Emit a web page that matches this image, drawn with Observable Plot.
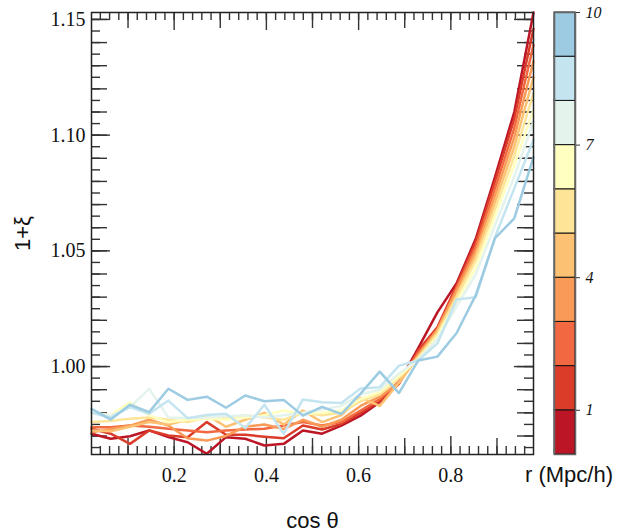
<!DOCTYPE html>
<html>
<head>
<meta charset="utf-8">
<script src="https://cdn.jsdelivr.net/npm/d3@7"></script>
<script src="https://cdn.jsdelivr.net/npm/@observablehq/plot@0.6"></script>
<style>
  body { margin: 0; background: #fff; }
  #wrap { position: relative; width: 633px; height: 532px; overflow: hidden; }
  #wrap svg { position: absolute; top: 0; }
</style>
</head>
<body>
<div id="wrap"></div>
<script>
// cos θ bin centres
const cosTheta = [0.0208, 0.0625, 0.1042, 0.1458, 0.1875, 0.2292, 0.2708, 0.3125, 0.3542, 0.3958, 0.4375, 0.4792,
                  0.5208, 0.5625, 0.6042, 0.6458, 0.6875, 0.7292, 0.7708, 0.8125, 0.8542, 0.8958, 0.9375, 0.9792];

// 1+ξ for each separation r (Mpc/h)
const r1  = [0.9710, 0.9688, 0.9699, 0.9724, 0.9695, 0.9673, 0.9623, 0.9695, 0.9688, 0.9659, 0.9666, 0.9724, 0.9710, 0.9745, 0.9788, 0.9846, 0.9930, 1.0080, 1.0234, 1.0360, 1.0553, 1.0820, 1.1100, 1.1530];
const r2  = [0.9731, 0.9710, 0.9666, 0.9724, 0.9702, 0.9695, 0.9760, 0.9705, 0.9705, 0.9697, 0.9690, 0.9745, 0.9728, 0.9752, 0.9800, 0.9850, 0.9925, 1.0070, 1.0170, 1.0350, 1.0540, 1.0800, 1.1070, 1.1460];
const r3  = [0.9738, 0.9738, 0.9745, 0.9740, 0.9731, 0.9724, 0.9716, 0.9724, 0.9728, 0.9731, 0.9745, 0.9760, 0.9745, 0.9760, 0.9810, 0.9860, 0.9935, 1.0060, 1.0160, 1.0340, 1.0520, 1.0770, 1.1030, 1.1390];
const r4  = [0.9716, 0.9730, 0.9745, 0.9770, 0.9745, 0.9690, 0.9680, 0.9700, 0.9740, 0.9750, 0.9730, 0.9770, 0.9740, 0.9770, 0.9830, 0.9870, 0.9930, 1.0050, 1.0160, 1.0330, 1.0500, 1.0740, 1.0990, 1.1320];
const r5  = [0.9724, 0.9720, 0.9740, 0.9760, 0.9750, 0.9770, 0.9790, 0.9740, 0.9770, 0.9800, 0.9750, 0.9810, 0.9760, 0.9790, 0.9865, 0.9830, 0.9930, 1.0040, 1.0150, 1.0310, 1.0480, 1.0710, 1.0950, 1.1250];
const r6  = [0.9760, 0.9765, 0.9775, 0.9780, 0.9770, 0.9760, 0.9780, 0.9775, 0.9790, 0.9780, 0.9770, 0.9800, 0.9790, 0.9800, 0.9850, 0.9880, 0.9950, 1.0040, 1.0140, 1.0300, 1.0460, 1.0680, 1.0910, 1.1180];
const r7  = [0.9800, 0.9790, 0.9846, 0.9790, 0.9759, 0.9770, 0.9775, 0.9770, 0.9780, 0.9790, 0.9810, 0.9795, 0.9800, 0.9810, 0.9860, 0.9890, 0.9960, 1.0030, 1.0130, 1.0280, 1.0430, 1.0650, 1.0870, 1.1110];
const r8  = [0.9801, 0.9788, 0.9824, 0.9904, 0.9780, 0.9778, 0.9780, 0.9785, 0.9790, 0.9780, 0.9790, 0.9800, 0.9815, 0.9830, 0.9880, 0.9900, 0.9970, 1.0030, 1.0120, 1.0260, 1.0400, 1.0610, 1.0820, 1.1060];
const r9  = [0.9800, 0.9780, 0.9825, 0.9796, 0.9853, 0.9777, 0.9791, 0.9796, 0.9734, 0.9835, 0.9709, 0.9858, 0.9846, 0.9843, 0.9905, 0.9911, 1.0004, 1.0026, 1.0100, 1.0290, 1.0300, 1.0560, 1.0770, 1.0980];
const r10 = [0.9817, 0.9771, 0.9835, 0.9803, 0.9904, 0.9856, 0.9870, 0.9822, 0.9875, 0.9850, 0.9856, 0.9788, 0.9826, 0.9795, 0.9883, 0.9978, 0.9885, 1.0026, 1.0043, 1.0145, 1.0310, 1.0555, 1.0640, 1.0905];

const rValues = [1, 2, 3, 4, 5, 6, 7, 8, 9, 10];
const rColors = ["#bb1526", "#db3c2a", "#f26841", "#f99b57", "#fdc173", "#fee497", "#ffffc0", "#e4f3ec", "#c4e5f0", "#9ccbe2"];
const colorbarTicks = [1, 4, 7, 10];

const xTickLabels = [0.2, 0.4, 0.6, 0.8];
const yTickLabels = [1.00, 1.05, 1.10, 1.15];

const xDomain = [0.0208, 0.9792];
const yDomain = [0.962, 1.153];

const allSeries = [r1, r2, r3, r4, r5, r6, r7, r8, r9, r10];
const table = [];
allSeries.forEach((s, k) => s.forEach((v, i) => table.push({x: cosTheta[i], y: v, r: rValues[k]})));

const W = 633, H = 532;
const mL = 91, mR = 100, mT = 12, mB = 78;
const pw = W - mL - mR, ph = H - mT - mB;

const inRange = (d, [a, b]) => d >= a - 1e-9 && d <= b + 1e-9;
const xMinor = d3.range(0, 1.0001, 0.02).map(v => +v.toFixed(2)).filter(v => inRange(v, xDomain));
const xMid = [0.1, 0.3, 0.5, 0.7, 0.9];
const yMinor = d3.range(0.96, 1.155, 0.005).map(v => +v.toFixed(3)).filter(v => inRange(v, yDomain));
const yMid = d3.range(0.96, 1.155, 0.01).map(v => +v.toFixed(2)).filter(v => inRange(v, yDomain));

const tickStroke = "#333";
const LONG = 18, MID = 16, SHORT = 8;

function xTicks(arr, len) {
  return [
    Plot.tickX(arr, {x: d => d, insetTop: ph - len, stroke: tickStroke, strokeWidth: 1.4}),
    Plot.tickX(arr, {x: d => d, insetBottom: ph - len, stroke: tickStroke, strokeWidth: 1.4})
  ];
}
function yTicks(arr, len) {
  return [
    Plot.tickY(arr, {y: d => d, insetRight: pw - len, stroke: tickStroke, strokeWidth: 1.4}),
    Plot.tickY(arr, {y: d => d, insetLeft: pw - len, stroke: tickStroke, strokeWidth: 1.4})
  ];
}

const main = Plot.plot({
  width: W, height: H,
  marginLeft: mL, marginRight: mR, marginTop: mT, marginBottom: mB,
  style: {background: "transparent", overflow: "visible", color: "#111"},
  x: {domain: xDomain, axis: null},
  y: {domain: yDomain, axis: null},
  color: {type: "ordinal", domain: rValues, range: rColors},
  marks: [
    ...xTicks(xMinor, SHORT), ...xTicks(xMid, MID), ...xTicks(xTickLabels, LONG),
    ...yTicks(yMinor, SHORT + 1), ...yTicks(yMid, MID), ...yTicks(yTickLabels, LONG + 1),
    Plot.line(table, {x: "x", y: "y", z: "r", stroke: "r", strokeWidth: 2.5}),
    Plot.frame({stroke: "#222", strokeWidth: 1.5}),
    Plot.axisX(xTickLabels, {tickSize: 0, tickPadding: 13, fontSize: 20, fontFamily: "Liberation Serif", label: null, tickFormat: d3.format(".1f")}),
    Plot.axisY(yTickLabels, {tickSize: 0, tickPadding: 6, fontSize: 20, fontFamily: "Liberation Serif", label: null, tickFormat: d3.format(".2f")}),
    Plot.text(["cos θ"], {frameAnchor: "bottom", dy: 66, lineAnchor: "middle", fontSize: 22, fontFamily: "Liberation Sans", fill: "#111"}),
    Plot.text(["1+ξ"], {frameAnchor: "left", dx: -69, rotate: -90, textAnchor: "middle", lineAnchor: "middle", fontSize: 22, fontFamily: "Liberation Sans", fill: "#111"})
  ]
});
document.getElementById("wrap").appendChild(main);

// colour bar
const cbLeft = 500, cbW = 133;
const cb = Plot.plot({
  width: cbW, height: H,
  marginLeft: 54, marginRight: 58, marginTop: 12, marginBottom: 78,
  style: {background: "transparent", overflow: "visible", color: "#111"},
  x: {domain: [0, 1], axis: null},
  y: {domain: [0, 10], axis: null},
  color: {type: "ordinal", domain: rValues, range: rColors},
  marks: [
    Plot.rect(rValues, {x1: 0, x2: 1, y1: d => d - 1, y2: d => d, fill: d => d, stroke: "#111", strokeWidth: 1}),
    Plot.frame({stroke: "#666", strokeWidth: 1.5}),
    Plot.axisY(colorbarTicks, {anchor: "right", tickSize: 4, tickPadding: 6, fontSize: 16, fontStyle: "italic", fontFamily: "Liberation Serif", label: null, stroke: "#333"}),
    Plot.text(["r (Mpc/h)"], {frameAnchor: "bottom", dy: 20, dx: 4, lineAnchor: "middle", fontSize: 22, fontFamily: "Liberation Sans", fill: "#111"})
  ]
});
cb.style.left = cbLeft + "px";
document.getElementById("wrap").appendChild(cb);
</script>
</body>
</html>
